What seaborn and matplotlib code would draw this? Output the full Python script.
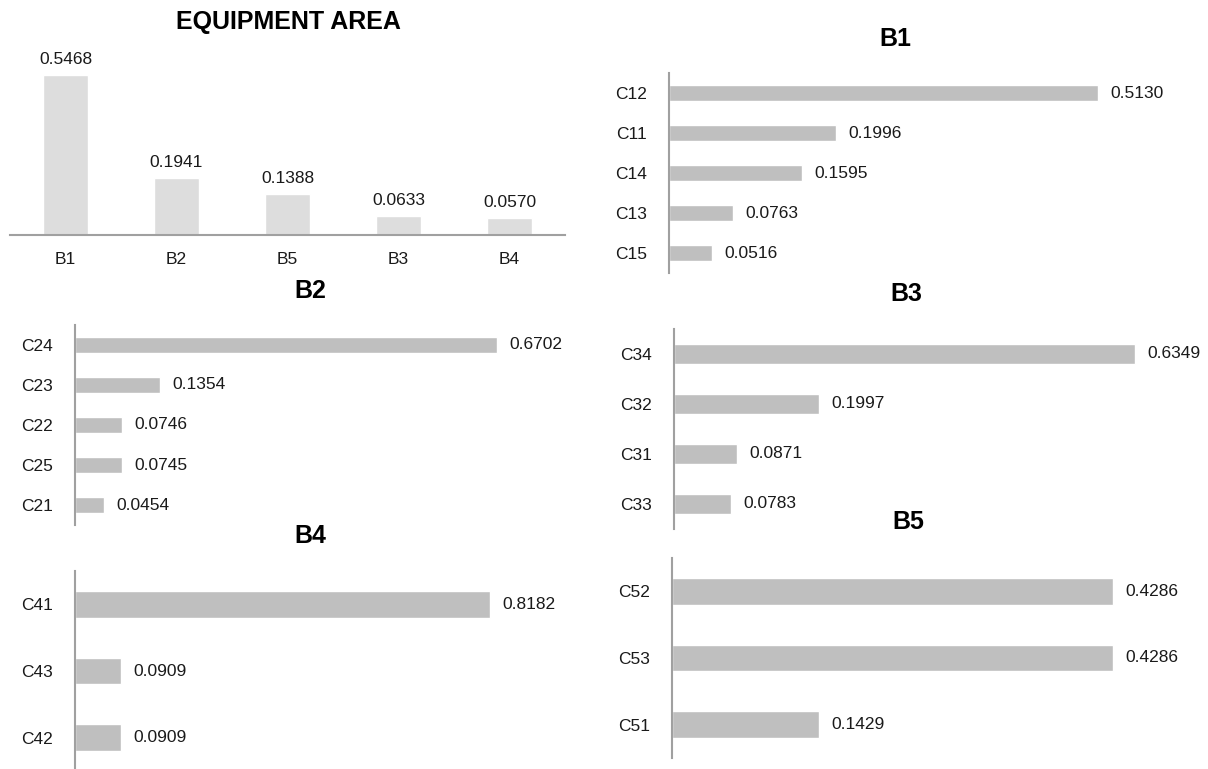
import matplotlib
matplotlib.use("Agg")
import matplotlib.pyplot as plt
import seaborn as sns
import pandas as pd

# Overall weights of the equipment-area criteria
area_labels = ["B1", "B2", "B5", "B3", "B4"]
area_values = [0.5468, 0.1941, 0.1388, 0.0633, 0.0570]

# Sub-criteria weights inside each criterion
b1_labels = ["C12", "C11", "C14", "C13", "C15"]
b1_values = [0.5130, 0.1996, 0.1595, 0.0763, 0.0516]

b2_labels = ["C24", "C23", "C22", "C25", "C21"]
b2_values = [0.6702, 0.1354, 0.0746, 0.0745, 0.0454]

b3_labels = ["C34", "C32", "C31", "C33"]
b3_values = [0.6349, 0.1997, 0.0871, 0.0783]

b4_labels = ["C41", "C43", "C42"]
b4_values = [0.8182, 0.0909, 0.0909]

b5_labels = ["C52", "C53", "C51"]
b5_values = [0.4286, 0.4286, 0.1429]

sns.set_style("white")
plt.rcParams["font.family"] = ["Liberation Sans", "DejaVu Sans"]

W, H, DPI = 1208, 769, 100
fig = plt.figure(figsize=(W / DPI, H / DPI), dpi=DPI)
fig.patch.set_facecolor("white")

AXIS_GREY = "#a0a0a0"
BAR_LIGHT = "#dddddd"
BAR_MID = "#bfbfbf"
TXT = "#1a1a1a"
VAL_FS = 12.5
TICK_FS = 12.5
TITLE_FS = 18


def px_axes(x0, y0, x1, y1):
    """Axes placed by pixel box (top-left origin)."""
    return fig.add_axes([x0 / W, 1 - y1 / H, (x1 - x0) / W, (y1 - y0) / H])


def title_at(x, y, text):
    fig.text(x / W, 1 - y / H, text, ha="center", va="center",
             fontsize=TITLE_FS, fontweight="bold", color="black")


# ---- Equipment area (vertical bars) ----
ax0 = px_axes(10, 35, 565, 235)
df0 = pd.DataFrame({"crit": area_labels, "w": area_values})
sns.barplot(data=df0, x="crit", y="w", color=BAR_LIGHT, saturation=1,
            width=0.4, ax=ax0)
ax0.set_xlim(-0.5, len(area_labels) - 0.5)
ax0.set_ylim(0, 200 / 292.6)
ax0.bar_label(ax0.containers[0], fmt="%.4f", padding=6,
              fontsize=VAL_FS, color=TXT)
sns.despine(ax=ax0, left=True, top=True, right=True)
ax0.spines["bottom"].set_color(AXIS_GREY)
ax0.spines["bottom"].set_linewidth(1.5)
ax0.set_yticks([])
ax0.set_xlabel("")
ax0.set_ylabel("")
ax0.tick_params(axis="x", length=0, pad=12, labelsize=TICK_FS, labelcolor=TXT)
title_at(288, 22, "EQUIPMENT AREA")


def hbar_panel(box, labels, values, px_per_unit, title_xy, title):
    x0, y0, x1, y1 = box
    ax = px_axes(x0, y0, x1, y1)
    df = pd.DataFrame({"sub": labels, "w": values})
    sns.barplot(data=df, y="sub", x="w", color=BAR_MID, saturation=1,
                width=0.4, orient="h", ax=ax)
    ax.set_xlim(0, (x1 - x0) / px_per_unit)
    ax.set_ylim(len(labels) - 0.5, -0.5)
    ax.bar_label(ax.containers[0], fmt="%.4f", padding=9,
                 fontsize=VAL_FS, color=TXT)
    sns.despine(ax=ax, left=False, bottom=True, top=True, right=True)
    ax.spines["left"].set_color(AXIS_GREY)
    ax.spines["left"].set_linewidth(1.5)
    ax.set_xticks([])
    ax.set_xlabel("")
    ax.set_ylabel("")
    ax.tick_params(axis="y", length=0, pad=16, labelsize=TICK_FS,
                   labelcolor=TXT)
    title_at(title_xy[0], title_xy[1], title)
    return ax


hbar_panel((669, 73, 1200, 273), b1_labels, b1_values, 836, (895, 39), "B1")
hbar_panel((75, 325, 600, 525), b2_labels, b2_values, 630, (310, 291), "B2")
hbar_panel((674, 329, 1200, 529), b3_labels, b3_values, 726, (906, 294), "B3")
hbar_panel((75, 571, 600, 771), b4_labels, b4_values, 507, (310, 536), "B4")
hbar_panel((672, 558, 1200, 758), b5_labels, b5_values, 1028, (908, 522), "B5")

fig.savefig("out.png", dpi=DPI, facecolor="white")
